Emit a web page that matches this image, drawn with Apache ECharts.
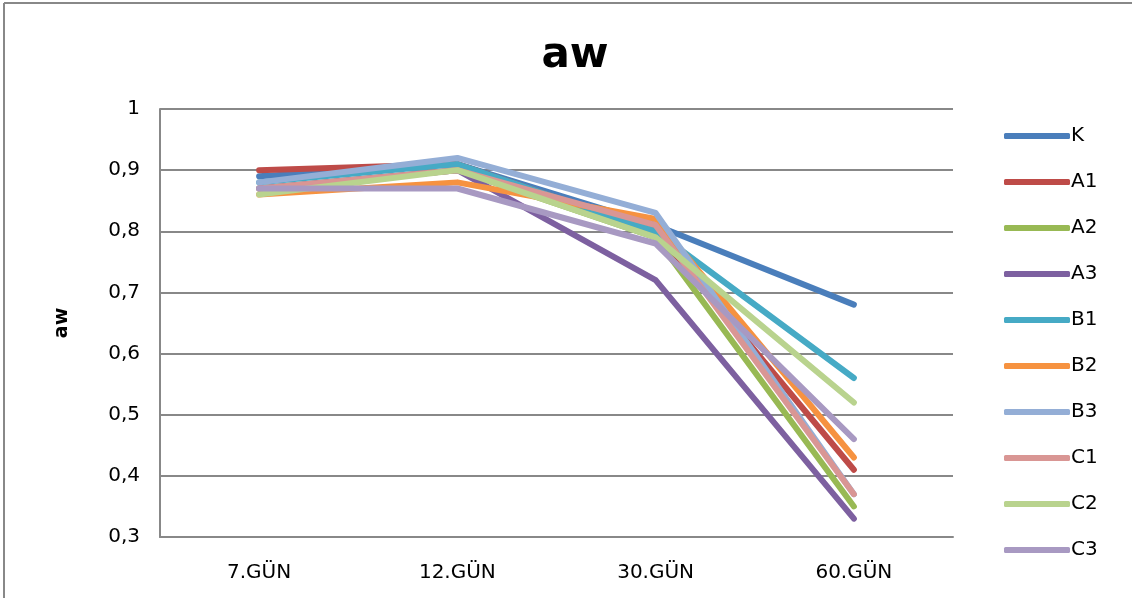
<!DOCTYPE html>
<html><head><meta charset="utf-8">
<script src="https://cdn.jsdelivr.net/npm/echarts@6/dist/echarts.min.js"></script>
<style>html,body{margin:0;padding:0;background:#fff}#c{width:1132px;height:598px}</style>
</head><body><div id="c"></div>
<script>
const categories = ['7.GÜN','12.GÜN','30.GÜN','60.GÜN'];
const seriesNames = ['K','A1','A2','A3','B1','B2','B3','C1','C2','C3'];
const K  = [0.89, 0.91, 0.81, 0.68];
const A1 = [0.90, 0.91, 0.80, 0.41];
const A2 = [0.87, 0.90, 0.79, 0.35];
const A3 = [0.87, 0.90, 0.72, 0.33];
const B1 = [0.88, 0.91, 0.80, 0.56];
const B2 = [0.86, 0.88, 0.82, 0.43];
const B3 = [0.88, 0.92, 0.83, 0.37];
const C1 = [0.87, 0.90, 0.81, 0.37];
const C2 = [0.86, 0.90, 0.79, 0.52];
const C3 = [0.87, 0.87, 0.78, 0.46];
const values = [K,A1,A2,A3,B1,B2,B3,C1,C2,C3];
const colors = ['#4A7EBB','#BE4B48','#98B954','#7D60A0','#46AAC5','#F69240','#94AED6','#D99694','#B9D38E','#A899C2'];
const font = 'DejaVu Sans';
const chart = echarts.init(document.getElementById('c'));
chart.setOption({
  animation:false,
  color: colors,
  title:{text:'aw', left:570, textAlign:'center', top:30, textStyle:{fontFamily:font, fontSize:42, fontWeight:'bold', color:'#000'}},
  graphic:[
    {type:'line', shape:{x1:4,y1:3,x2:1140,y2:3}, style:{stroke:'#888', lineWidth:2}},
    {type:'line', shape:{x1:4,y1:3,x2:4,y2:600}, style:{stroke:'#888', lineWidth:2}}
  ],
  grid:{left:160, right:179, top:109, bottom:61},
  legend:{orient:'vertical', left:999, top:121, icon:'roundRect', itemWidth:66, itemHeight:6, itemGap:26,
    textStyle:{fontFamily:font, fontSize:20, color:'#000', lineHeight:20, padding:[0,0,0,-4]},
    data: seriesNames},
  xAxis:{type:'category', data:categories, boundaryGap:true,
    axisLine:{lineStyle:{color:'#888', width:2}}, axisTick:{show:false},
    axisLabel:{fontFamily:font, fontSize:20, color:'#000', margin:26}},
  yAxis:{type:'value', min:0.3, max:1, interval:0.1, name:'aw', nameLocation:'middle', nameGap:88, nameRotate:90,
    nameTextStyle:{fontFamily:font, fontSize:19, fontWeight:'bold', color:'#000'},
    axisLine:{show:true, lineStyle:{color:'#888', width:2}}, axisTick:{show:false},
    splitLine:{lineStyle:{color:'#888', width:2}},
    axisLabel:{fontFamily:font, fontSize:20, color:'#000', margin:20, formatter:v=>String(Math.round(v*10)/10).replace('.',',')}},
  series: seriesNames.map((n,i)=>({name:n, type:'line', data:values[i], showSymbol:false, symbol:'none',
    lineStyle:{width:6, cap:'round', join:'round'}}))
});
</script></body></html>
